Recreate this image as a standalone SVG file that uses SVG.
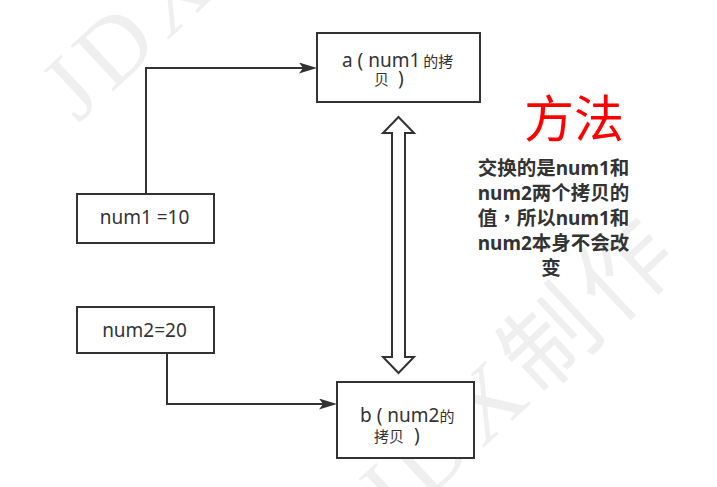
<svg xmlns="http://www.w3.org/2000/svg" width="717" height="487" viewBox="0 0 717 487">
<style>
.box{fill:#ffffff;stroke:#333333;stroke-width:2}
.t{fill:#333333}
.lat{font-family:"Noto Sans","Liberation Sans",sans-serif;font-size:19px}
.cjk{font-family:"Noto Sans CJK SC",sans-serif;font-size:15px}
.blat{font-family:"Noto Sans","Liberation Sans",sans-serif;font-size:19px;font-weight:bold}
.bcjk{font-family:"Noto Sans CJK SC",sans-serif;font-size:19.5px;font-weight:bold}
.bpar{font-family:"Noto Sans CJK TC",sans-serif;font-size:19.5px;font-weight:bold}
.edge{fill:none;stroke:#333333;stroke-width:2}
.wm{font-family:"Liberation Serif","Noto Sans CJK SC",serif;font-size:95px;fill:#efefef;letter-spacing:8px}
</style>
<defs>
<marker id="arr" viewBox="0 0 18 11" refX="14" refY="5.5" markerWidth="18" markerHeight="11" markerUnits="userSpaceOnUse" orient="auto">
<path d="M0,0 L18,5.5 L0,11 L4,5.5 Z" fill="#333333"/>
</marker>
</defs>
<rect width="717" height="487" fill="#ffffff"/>
<g id="watermark">
<text class="wm" transform="translate(78,124) rotate(-43)">JDX制作</text>
<text class="wm" transform="translate(393,532) rotate(-43)">JDX制作</text>
</g>
<g id="connectors">
<path class="edge" d="M146,194 V68 H313" marker-end="url(#arr)"/>
<path class="edge" d="M167,353 V404 H333" marker-end="url(#arr)"/>
<polygon class="box" points="398.5,117 414,133 405,133 405,357 414,357 398.5,373 383,357 392,357 392,133 383,133"/>
</g>
<g id="node-a">
<rect class="box" x="317" y="33" width="163" height="69"/>
<text x="342" y="67" class="t"><tspan class="lat">a ( num1</tspan><tspan class="cjk" dx="3">的拷</tspan></text>
<text x="374" y="85" class="t"><tspan class="cjk">贝</tspan><tspan class="lat" dx="4"> )</tspan></text>
</g>
<g id="node-num1">
<rect class="box" x="77" y="194" width="137" height="49"/>
<text x="144.5" y="224" text-anchor="middle" class="t lat">num1 =10</text>
</g>
<g id="node-num2">
<rect class="box" x="77" y="307" width="137" height="46"/>
<text x="144.5" y="337" text-anchor="middle" class="t lat">num2=20</text>
</g>
<g id="node-b">
<rect class="box" x="337" y="382" width="137" height="76"/>
<text x="360" y="422" class="t"><tspan class="lat">b ( num2</tspan><tspan class="cjk">的</tspan></text>
<text x="374" y="442" class="t"><tspan class="cjk">拷贝</tspan><tspan class="lat" dx="5"> )</tspan></text>
</g>
<g id="label-method">
<text x="574" y="137" text-anchor="middle" fill="#ff0000" font-family="'Noto Sans CJK SC',sans-serif" font-size="50">方法</text>
</g>
<g id="label-note" class="t">
<text x="553.5" y="175" text-anchor="middle"><tspan class="bcjk">交换的是</tspan><tspan class="blat">num1</tspan><tspan class="bcjk">和</tspan></text>
<text x="553.5" y="200" text-anchor="middle"><tspan class="blat">num2</tspan><tspan class="bcjk">两个拷贝的</tspan></text>
<text x="553.5" y="225" text-anchor="middle"><tspan class="bcjk">值</tspan><tspan class="bpar">，</tspan><tspan class="bcjk">所以</tspan><tspan class="blat">num1</tspan><tspan class="bcjk">和</tspan></text>
<text x="553.5" y="250" text-anchor="middle"><tspan class="blat">num2</tspan><tspan class="bcjk">本身不会改</tspan></text>
<text x="551" y="275" text-anchor="middle"><tspan class="bcjk">变</tspan></text>
</g>
</svg>
